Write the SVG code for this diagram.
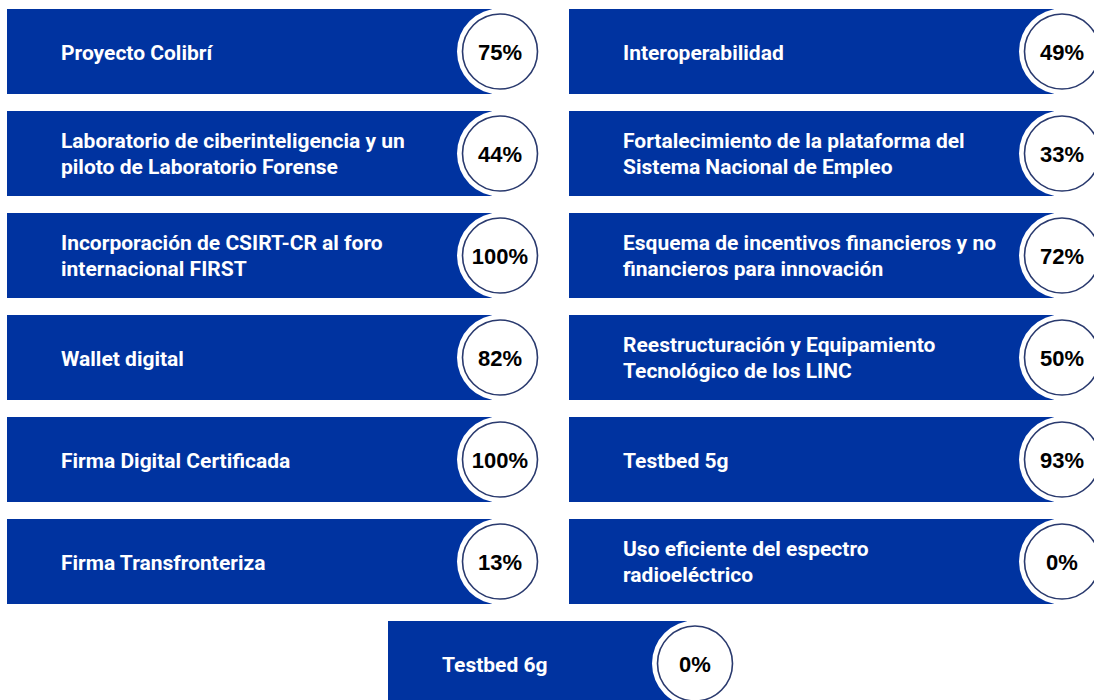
<svg xmlns="http://www.w3.org/2000/svg" width="1094" height="700" viewBox="0 0 1094 700">
<style>
.bar{fill:#0033a0}
.notch{fill:#ffffff}
.ring{fill:#ffffff;stroke:#2a3a6e;stroke-width:1.6}
.lbl{font-family:Roboto,"Liberation Sans",sans-serif;font-weight:700;font-size:21px;fill:#ffffff}
.pct{font-family:"Liberation Sans",Arial,sans-serif;font-weight:700;font-size:22px;fill:#000000;text-anchor:middle}
</style>
<rect width="1094" height="700" fill="#ffffff"/>
<g id="n1"><rect class="bar" x="7" y="9" width="485" height="85"/><circle class="notch" cx="500" cy="51.5" r="43"/><circle class="ring" cx="500" cy="51.5" r="37.5"/><text class="lbl" x="61" y="59.5">Proyecto Colibrí</text><text class="pct" x="500" y="59.5">75%</text></g>
<g id="n2"><rect class="bar" x="569" y="9" width="485" height="85"/><circle class="notch" cx="1062" cy="51.5" r="43"/><circle class="ring" cx="1062" cy="51.5" r="37.5"/><text class="lbl" x="623" y="59.5">Interoperabilidad</text><text class="pct" x="1062" y="59.5">49%</text></g>
<g id="n3"><rect class="bar" x="7" y="111" width="485" height="85"/><circle class="notch" cx="500" cy="153.5" r="43"/><circle class="ring" cx="500" cy="153.5" r="37.5"/><text class="lbl" x="61" y="147.5">Laboratorio de ciberinteligencia y un</text><text class="lbl" x="61" y="173.5">piloto de Laboratorio Forense</text><text class="pct" x="500" y="161.5">44%</text></g>
<g id="n4"><rect class="bar" x="569" y="111" width="485" height="85"/><circle class="notch" cx="1062" cy="153.5" r="43"/><circle class="ring" cx="1062" cy="153.5" r="37.5"/><text class="lbl" x="623" y="147.5">Fortalecimiento de la plataforma del</text><text class="lbl" x="623" y="173.5">Sistema Nacional de Empleo</text><text class="pct" x="1062" y="161.5">33%</text></g>
<g id="n5"><rect class="bar" x="7" y="213" width="485" height="85"/><circle class="notch" cx="500" cy="255.5" r="43"/><circle class="ring" cx="500" cy="255.5" r="37.5"/><text class="lbl" x="61" y="249.5">Incorporación de CSIRT-CR al foro</text><text class="lbl" x="61" y="275.5">internacional FIRST</text><text class="pct" x="500" y="263.5">100%</text></g>
<g id="n6"><rect class="bar" x="569" y="213" width="485" height="85"/><circle class="notch" cx="1062" cy="255.5" r="43"/><circle class="ring" cx="1062" cy="255.5" r="37.5"/><text class="lbl" x="623" y="249.5">Esquema de incentivos financieros y no</text><text class="lbl" x="623" y="275.5">financieros para innovación</text><text class="pct" x="1062" y="263.5">72%</text></g>
<g id="n7"><rect class="bar" x="7" y="315" width="485" height="85"/><circle class="notch" cx="500" cy="357.5" r="43"/><circle class="ring" cx="500" cy="357.5" r="37.5"/><text class="lbl" x="61" y="365.5">Wallet digital</text><text class="pct" x="500" y="365.5">82%</text></g>
<g id="n8"><rect class="bar" x="569" y="315" width="485" height="85"/><circle class="notch" cx="1062" cy="357.5" r="43"/><circle class="ring" cx="1062" cy="357.5" r="37.5"/><text class="lbl" x="623" y="351.5">Reestructuración y Equipamiento</text><text class="lbl" x="623" y="377.5">Tecnológico de los LINC</text><text class="pct" x="1062" y="365.5">50%</text></g>
<g id="n9"><rect class="bar" x="7" y="417" width="485" height="85"/><circle class="notch" cx="500" cy="459.5" r="43"/><circle class="ring" cx="500" cy="459.5" r="37.5"/><text class="lbl" x="61" y="467.5">Firma Digital Certificada</text><text class="pct" x="500" y="467.5">100%</text></g>
<g id="n10"><rect class="bar" x="569" y="417" width="485" height="85"/><circle class="notch" cx="1062" cy="459.5" r="43"/><circle class="ring" cx="1062" cy="459.5" r="37.5"/><text class="lbl" x="623" y="467.5">Testbed 5g</text><text class="pct" x="1062" y="467.5">93%</text></g>
<g id="n11"><rect class="bar" x="7" y="519" width="485" height="85"/><circle class="notch" cx="500" cy="561.5" r="43"/><circle class="ring" cx="500" cy="561.5" r="37.5"/><text class="lbl" x="61" y="569.5">Firma Transfronteriza</text><text class="pct" x="500" y="569.5">13%</text></g>
<g id="n12"><rect class="bar" x="569" y="519" width="485" height="85"/><circle class="notch" cx="1062" cy="561.5" r="43"/><circle class="ring" cx="1062" cy="561.5" r="37.5"/><text class="lbl" x="623" y="555.5">Uso eficiente del espectro</text><text class="lbl" x="623" y="581.5">radioeléctrico</text><text class="pct" x="1062" y="569.5">0%</text></g>
<g id="n13"><rect class="bar" x="388" y="621" width="299" height="85"/><circle class="notch" cx="695" cy="663.5" r="43"/><circle class="ring" cx="695" cy="663.5" r="37.5"/><text class="lbl" x="442" y="671.5">Testbed 6g</text><text class="pct" x="695" y="671.5">0%</text></g>
<g id="connectors"/>
</svg>
